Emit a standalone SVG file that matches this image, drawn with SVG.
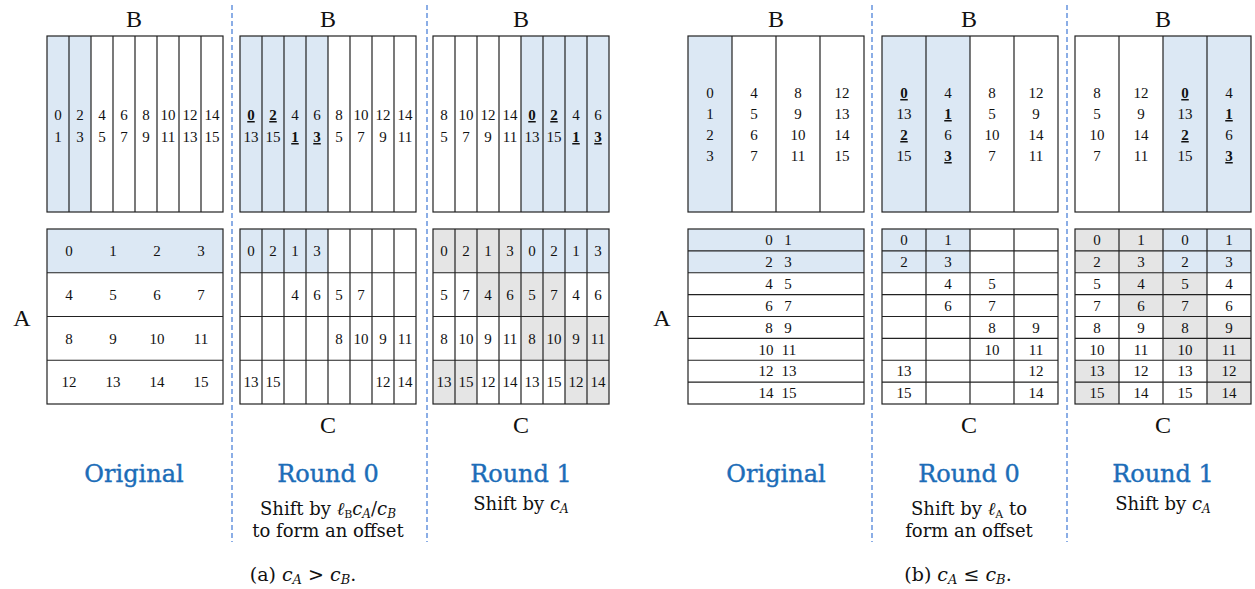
<svg xmlns="http://www.w3.org/2000/svg" width="1255" height="589" viewBox="0 0 1255 589">
<style>
  text { font-family: "Liberation Serif", "DejaVu Serif", serif; fill: #111; }
  .n { font-size: 15px; text-anchor: middle; }
  .k { font-weight: bold; text-decoration: underline; }
  .lab { font-size: 24px; text-anchor: middle; }
  .title { font-family: "DejaVu Serif", serif; font-size: 24px; text-anchor: middle; fill: #1c6db8; stroke: #1c6db8; stroke-width: 0.4; }
  .sub { font-family: "DejaVu Serif", serif; font-size: 18px; text-anchor: middle; }
  .cap { font-family: "DejaVu Serif", serif; font-size: 19px; text-anchor: middle; }
  .grid { fill: none; stroke: #222; stroke-width: 1.2; }
  .blue { fill: #dce8f4; }
  .gray { fill: #e5e5e5; }
  .sep { stroke: #3f78d6; stroke-width: 1.2; stroke-dasharray: 5 3; }
</style>

<!-- dashed separators between stages -->
<g id="separators">
  <line class="sep" x1="232" y1="5" x2="232" y2="542"/>
  <line class="sep" x1="427" y1="5" x2="427" y2="542"/>
  <line class="sep" x1="872" y1="5" x2="872" y2="542"/>
  <line class="sep" x1="1067" y1="5" x2="1067" y2="542"/>
</g>

<!-- axis labels -->
<g id="labels">
  <text class="lab" x="134" y="27">B</text>
  <text class="lab" x="328" y="27">B</text>
  <text class="lab" x="521" y="27">B</text>
  <text class="lab" x="776" y="27">B</text>
  <text class="lab" x="969" y="27">B</text>
  <text class="lab" x="1163" y="27">B</text>
  <text class="lab" x="328" y="433">C</text>
  <text class="lab" x="521" y="433">C</text>
  <text class="lab" x="969" y="433">C</text>
  <text class="lab" x="1163" y="433">C</text>
  <text class="lab" x="22" y="326">A</text>
  <text class="lab" x="662" y="326">A</text>
</g>

<!-- (a) original B: 8 columns -->
<g id="a-orig-B">
  <rect class="blue" x="47" y="36" width="44" height="176"/>
  <rect class="grid" x="47" y="36" width="176" height="176"/>
  <path class="grid" d="M69 36V212M91 36V212M113 36V212M135 36V212M157 36V212M179 36V212M201 36V212"/>
  <text class="n" y="120"><tspan x="58">0</tspan><tspan x="80">2</tspan><tspan x="102">4</tspan><tspan x="124">6</tspan><tspan x="146">8</tspan><tspan x="168">10</tspan><tspan x="190">12</tspan><tspan x="212">14</tspan></text>
  <text class="n" y="142"><tspan x="58">1</tspan><tspan x="80">3</tspan><tspan x="102">5</tspan><tspan x="124">7</tspan><tspan x="146">9</tspan><tspan x="168">11</tspan><tspan x="190">13</tspan><tspan x="212">15</tspan></text>
</g>

<!-- (a) original A: 4x4 -->
<g id="a-orig-A">
  <rect class="blue" x="47" y="229" width="176" height="43.75"/>
  <rect class="grid" x="47" y="229" width="176" height="175"/>
  <path class="grid" d="M47 272.75H223M47 316.5H223M47 360.25H223"/>
  <text class="n" y="256"><tspan x="69">0</tspan><tspan x="113">1</tspan><tspan x="157">2</tspan><tspan x="201">3</tspan></text>
  <text class="n" y="300"><tspan x="69">4</tspan><tspan x="113">5</tspan><tspan x="157">6</tspan><tspan x="201">7</tspan></text>
  <text class="n" y="343.5"><tspan x="69">8</tspan><tspan x="113">9</tspan><tspan x="157">10</tspan><tspan x="201">11</tspan></text>
  <text class="n" y="387"><tspan x="69">12</tspan><tspan x="113">13</tspan><tspan x="157">14</tspan><tspan x="201">15</tspan></text>
</g>

<!-- (a) round 0 B -->
<g id="a-r0-B">
  <rect class="blue" x="240" y="36" width="88" height="176"/>
  <rect class="grid" x="240" y="36" width="176" height="176"/>
  <path class="grid" d="M262 36V212M284 36V212M306 36V212M328 36V212M350 36V212M372 36V212M394 36V212"/>
  <text class="n" y="120"><tspan x="251" class="k">0</tspan><tspan x="273" class="k">2</tspan><tspan x="295">4</tspan><tspan x="317">6</tspan><tspan x="339">8</tspan><tspan x="361">10</tspan><tspan x="383">12</tspan><tspan x="405">14</tspan></text>
  <text class="n" y="142"><tspan x="251">13</tspan><tspan x="273">15</tspan><tspan x="295" class="k">1</tspan><tspan x="317" class="k">3</tspan><tspan x="339">5</tspan><tspan x="361">7</tspan><tspan x="383">9</tspan><tspan x="405">11</tspan></text>
</g>

<!-- (a) round 0 C -->
<g id="a-r0-C">
  <rect class="blue" x="240" y="229" width="88" height="43.75"/>
  <rect class="grid" x="240" y="229" width="176" height="175"/>
  <path class="grid" d="M262 229V404M284 229V404M306 229V404M328 229V404M350 229V404M372 229V404M394 229V404M240 272.75H416M240 316.5H416M240 360.25H416"/>
  <text class="n" y="256"><tspan x="251">0</tspan><tspan x="273">2</tspan><tspan x="295">1</tspan><tspan x="317">3</tspan></text>
  <text class="n" y="300"><tspan x="295">4</tspan><tspan x="317">6</tspan><tspan x="339">5</tspan><tspan x="361">7</tspan></text>
  <text class="n" y="343.5"><tspan x="339">8</tspan><tspan x="361">10</tspan><tspan x="383">9</tspan><tspan x="405">11</tspan></text>
  <text class="n" y="387"><tspan x="251">13</tspan><tspan x="273">15</tspan><tspan x="383">12</tspan><tspan x="405">14</tspan></text>
</g>

<!-- (a) round 1 B -->
<g id="a-r1-B">
  <rect class="blue" x="521" y="36" width="88" height="176"/>
  <rect class="grid" x="433" y="36" width="176" height="176"/>
  <path class="grid" d="M455 36V212M477 36V212M499 36V212M521 36V212M543 36V212M565 36V212M587 36V212"/>
  <text class="n" y="120"><tspan x="444">8</tspan><tspan x="466">10</tspan><tspan x="488">12</tspan><tspan x="510">14</tspan><tspan x="532" class="k">0</tspan><tspan x="554" class="k">2</tspan><tspan x="576">4</tspan><tspan x="598">6</tspan></text>
  <text class="n" y="142"><tspan x="444">5</tspan><tspan x="466">7</tspan><tspan x="488">9</tspan><tspan x="510">11</tspan><tspan x="532">13</tspan><tspan x="554">15</tspan><tspan x="576" class="k">1</tspan><tspan x="598" class="k">3</tspan></text>
</g>

<!-- (a) round 1 C -->
<g id="a-r1-C">
  <rect class="gray" x="433" y="229" width="88" height="43.75"/>
  <rect class="blue" x="521" y="229" width="88" height="43.75"/>
  <rect class="gray" x="477" y="272.75" width="88" height="43.75"/>
  <rect class="gray" x="521" y="316.5" width="88" height="43.75"/>
  <rect class="gray" x="433" y="360.25" width="44" height="43.75"/>
  <rect class="gray" x="565" y="360.25" width="44" height="43.75"/>
  <rect class="grid" x="433" y="229" width="176" height="175"/>
  <path class="grid" d="M455 229V404M477 229V404M499 229V404M521 229V404M543 229V404M565 229V404M587 229V404M433 272.75H609M433 316.5H609M433 360.25H609"/>
  <text class="n" y="256"><tspan x="444">0</tspan><tspan x="466">2</tspan><tspan x="488">1</tspan><tspan x="510">3</tspan><tspan x="532">0</tspan><tspan x="554">2</tspan><tspan x="576">1</tspan><tspan x="598">3</tspan></text>
  <text class="n" y="300"><tspan x="444">5</tspan><tspan x="466">7</tspan><tspan x="488">4</tspan><tspan x="510">6</tspan><tspan x="532">5</tspan><tspan x="554">7</tspan><tspan x="576">4</tspan><tspan x="598">6</tspan></text>
  <text class="n" y="343.5"><tspan x="444">8</tspan><tspan x="466">10</tspan><tspan x="488">9</tspan><tspan x="510">11</tspan><tspan x="532">8</tspan><tspan x="554">10</tspan><tspan x="576">9</tspan><tspan x="598">11</tspan></text>
  <text class="n" y="387"><tspan x="444">13</tspan><tspan x="466">15</tspan><tspan x="488">12</tspan><tspan x="510">14</tspan><tspan x="532">13</tspan><tspan x="554">15</tspan><tspan x="576">12</tspan><tspan x="598">14</tspan></text>
</g>

<!-- (b) original B: 4 columns -->
<g id="b-orig-B">
  <rect class="blue" x="688" y="36" width="44" height="176"/>
  <rect class="grid" x="688" y="36" width="176" height="176"/>
  <path class="grid" d="M732 36V212M776 36V212M820 36V212"/>
  <text class="n" y="98"><tspan x="710">0</tspan><tspan x="754">4</tspan><tspan x="798">8</tspan><tspan x="842">12</tspan></text>
  <text class="n" y="119"><tspan x="710">1</tspan><tspan x="754">5</tspan><tspan x="798">9</tspan><tspan x="842">13</tspan></text>
  <text class="n" y="140"><tspan x="710">2</tspan><tspan x="754">6</tspan><tspan x="798">10</tspan><tspan x="842">14</tspan></text>
  <text class="n" y="161"><tspan x="710">3</tspan><tspan x="754">7</tspan><tspan x="798">11</tspan><tspan x="842">15</tspan></text>
</g>

<!-- (b) original A: 8 rows, two entries each -->
<g id="b-orig-A">
  <rect class="blue" x="688" y="229" width="176" height="43.75"/>
  <rect class="grid" x="688" y="229" width="176" height="175"/>
  <path class="grid" d="M688 250.875H864M688 272.75H864M688 294.625H864M688 316.5H864M688 338.375H864M688 360.25H864M688 382.125H864"/>
  <text class="n" y="245"><tspan x="769">0</tspan><tspan x="788">1</tspan></text>
  <text class="n" y="267"><tspan x="769">2</tspan><tspan x="788">3</tspan></text>
  <text class="n" y="289"><tspan x="769">4</tspan><tspan x="788">5</tspan></text>
  <text class="n" y="311"><tspan x="769">6</tspan><tspan x="788">7</tspan></text>
  <text class="n" y="332.5"><tspan x="769">8</tspan><tspan x="788">9</tspan></text>
  <text class="n" y="354.5"><tspan x="766">10</tspan><tspan x="789">11</tspan></text>
  <text class="n" y="376"><tspan x="766">12</tspan><tspan x="789">13</tspan></text>
  <text class="n" y="398"><tspan x="766">14</tspan><tspan x="789">15</tspan></text>
</g>

<!-- (b) round 0 B -->
<g id="b-r0-B">
  <rect class="blue" x="882" y="36" width="88" height="176"/>
  <rect class="grid" x="882" y="36" width="176" height="176"/>
  <path class="grid" d="M926 36V212M970 36V212M1014 36V212"/>
  <text class="n" y="98"><tspan x="904" class="k">0</tspan><tspan x="948">4</tspan><tspan x="992">8</tspan><tspan x="1036">12</tspan></text>
  <text class="n" y="119"><tspan x="904">13</tspan><tspan x="948" class="k">1</tspan><tspan x="992">5</tspan><tspan x="1036">9</tspan></text>
  <text class="n" y="140"><tspan x="904" class="k">2</tspan><tspan x="948">6</tspan><tspan x="992">10</tspan><tspan x="1036">14</tspan></text>
  <text class="n" y="161"><tspan x="904">15</tspan><tspan x="948" class="k">3</tspan><tspan x="992">7</tspan><tspan x="1036">11</tspan></text>
</g>

<!-- (b) round 0 C -->
<g id="b-r0-C">
  <rect class="blue" x="882" y="229" width="88" height="43.75"/>
  <rect class="grid" x="882" y="229" width="176" height="175"/>
  <path class="grid" d="M926 229V404M970 229V404M1014 229V404M882 250.875H1058M882 272.75H1058M882 294.625H1058M882 316.5H1058M882 338.375H1058M882 360.25H1058M882 382.125H1058"/>
  <text class="n" y="245"><tspan x="904">0</tspan><tspan x="948">1</tspan></text>
  <text class="n" y="267"><tspan x="904">2</tspan><tspan x="948">3</tspan></text>
  <text class="n" y="289"><tspan x="948">4</tspan><tspan x="992">5</tspan></text>
  <text class="n" y="311"><tspan x="948">6</tspan><tspan x="992">7</tspan></text>
  <text class="n" y="332.5"><tspan x="992">8</tspan><tspan x="1036">9</tspan></text>
  <text class="n" y="354.5"><tspan x="992">10</tspan><tspan x="1036">11</tspan></text>
  <text class="n" y="376"><tspan x="904">13</tspan><tspan x="1036">12</tspan></text>
  <text class="n" y="398"><tspan x="904">15</tspan><tspan x="1036">14</tspan></text>
</g>

<!-- (b) round 1 B -->
<g id="b-r1-B">
  <rect class="blue" x="1163" y="36" width="88" height="176"/>
  <rect class="grid" x="1075" y="36" width="176" height="176"/>
  <path class="grid" d="M1119 36V212M1163 36V212M1207 36V212"/>
  <text class="n" y="98"><tspan x="1097">8</tspan><tspan x="1141">12</tspan><tspan x="1185" class="k">0</tspan><tspan x="1229">4</tspan></text>
  <text class="n" y="119"><tspan x="1097">5</tspan><tspan x="1141">9</tspan><tspan x="1185">13</tspan><tspan x="1229" class="k">1</tspan></text>
  <text class="n" y="140"><tspan x="1097">10</tspan><tspan x="1141">14</tspan><tspan x="1185" class="k">2</tspan><tspan x="1229">6</tspan></text>
  <text class="n" y="161"><tspan x="1097">7</tspan><tspan x="1141">11</tspan><tspan x="1185">15</tspan><tspan x="1229" class="k">3</tspan></text>
</g>

<!-- (b) round 1 C -->
<g id="b-r1-C">
  <rect class="gray" x="1075" y="229" width="88" height="43.75"/>
  <rect class="blue" x="1163" y="229" width="88" height="43.75"/>
  <rect class="gray" x="1119" y="272.75" width="88" height="43.75"/>
  <rect class="gray" x="1163" y="316.5" width="88" height="43.75"/>
  <rect class="gray" x="1075" y="360.25" width="44" height="43.75"/>
  <rect class="gray" x="1207" y="360.25" width="44" height="43.75"/>
  <rect class="grid" x="1075" y="229" width="176" height="175"/>
  <path class="grid" d="M1119 229V404M1163 229V404M1207 229V404M1075 250.875H1251M1075 272.75H1251M1075 294.625H1251M1075 316.5H1251M1075 338.375H1251M1075 360.25H1251M1075 382.125H1251"/>
  <text class="n" y="245"><tspan x="1097">0</tspan><tspan x="1141">1</tspan><tspan x="1185">0</tspan><tspan x="1229">1</tspan></text>
  <text class="n" y="267"><tspan x="1097">2</tspan><tspan x="1141">3</tspan><tspan x="1185">2</tspan><tspan x="1229">3</tspan></text>
  <text class="n" y="289"><tspan x="1097">5</tspan><tspan x="1141">4</tspan><tspan x="1185">5</tspan><tspan x="1229">4</tspan></text>
  <text class="n" y="311"><tspan x="1097">7</tspan><tspan x="1141">6</tspan><tspan x="1185">7</tspan><tspan x="1229">6</tspan></text>
  <text class="n" y="332.5"><tspan x="1097">8</tspan><tspan x="1141">9</tspan><tspan x="1185">8</tspan><tspan x="1229">9</tspan></text>
  <text class="n" y="354.5"><tspan x="1097">10</tspan><tspan x="1141">11</tspan><tspan x="1185">10</tspan><tspan x="1229">11</tspan></text>
  <text class="n" y="376"><tspan x="1097">13</tspan><tspan x="1141">12</tspan><tspan x="1185">13</tspan><tspan x="1229">12</tspan></text>
  <text class="n" y="398"><tspan x="1097">15</tspan><tspan x="1141">14</tspan><tspan x="1185">15</tspan><tspan x="1229">14</tspan></text>
</g>

<!-- stage titles and notes -->
<g id="titles">
  <text class="title" x="134" y="482">Original</text>
  <text class="title" x="328" y="482">Round 0</text>
  <text class="title" x="521" y="482">Round 1</text>
  <text class="sub" x="328" y="515">Shift by <tspan font-style="italic">ℓ</tspan><tspan font-size="11" dy="3">B</tspan><tspan font-style="italic" dy="-3">c</tspan><tspan font-style="italic" font-size="12" dy="3">A</tspan><tspan dy="-3">/</tspan><tspan font-style="italic">c</tspan><tspan font-style="italic" font-size="12" dy="3">B</tspan></text>
  <text class="sub" x="328" y="537">to form an offset</text>
  <text class="sub" x="521" y="510">Shift by <tspan font-style="italic">c</tspan><tspan font-style="italic" font-size="12" dy="3">A</tspan></text>

  <text class="title" x="776" y="482">Original</text>
  <text class="title" x="969" y="482">Round 0</text>
  <text class="title" x="1163" y="482">Round 1</text>
  <text class="sub" x="969" y="515">Shift by <tspan font-style="italic">ℓ</tspan><tspan font-size="11" dy="3">A</tspan><tspan dy="-3"> to</tspan></text>
  <text class="sub" x="969" y="537">form an offset</text>
  <text class="sub" x="1163" y="510">Shift by <tspan font-style="italic">c</tspan><tspan font-style="italic" font-size="12" dy="3">A</tspan></text>
</g>

<!-- sub-figure captions -->
<g id="captions">
  <text class="cap" x="303" y="581">(a) <tspan font-style="italic">c</tspan><tspan font-style="italic" font-size="13" dy="3">A</tspan><tspan dy="-3"> &gt; </tspan><tspan font-style="italic">c</tspan><tspan font-style="italic" font-size="13" dy="3">B</tspan><tspan dy="-3">.</tspan></text>
  <text class="cap" x="958" y="581">(b) <tspan font-style="italic">c</tspan><tspan font-style="italic" font-size="13" dy="3">A</tspan><tspan dy="-3"> ≤ </tspan><tspan font-style="italic">c</tspan><tspan font-style="italic" font-size="13" dy="3">B</tspan><tspan dy="-3">.</tspan></text>
</g>
</svg>
